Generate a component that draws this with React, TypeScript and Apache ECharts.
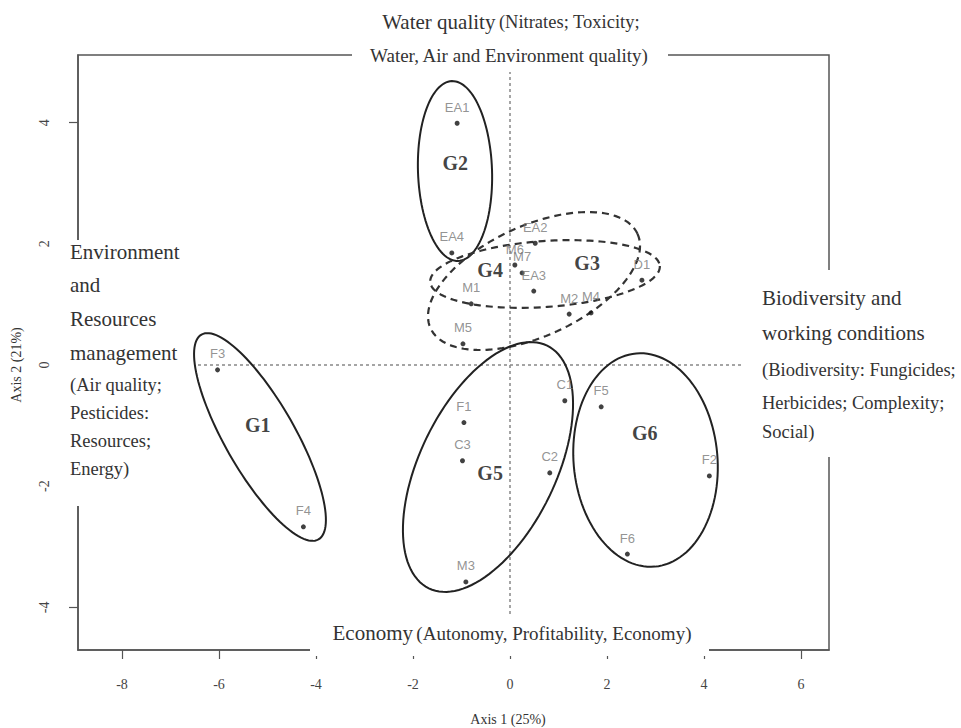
import React, { useEffect, useRef } from "react";
import * as echarts from "echarts";

// ---- data -------------------------------------------------------------
const pointNames = ["EA1", "EA2", "EA3", "EA4", "M1", "M2", "M3", "M4", "M5", "M6", "M7", "D1", "F1", "F2", "F3", "F4", "F5", "F6", "C1", "C2", "C3"];
const pointX = [-1.09, 0.52, 0.49, -1.2, -0.8, 1.22, -0.91, 1.67, -0.97, 0.1, 0.25, 2.72, -0.95, 4.11, -6.03, -4.26, 1.88, 2.42, 1.13, 0.82, -0.98];
const pointY = [3.99, 2.01, 1.22, 1.85, 1.01, 0.84, -3.58, 0.86, 0.35, 1.65, 1.52, 1.4, -0.95, -1.83, -0.08, -2.67, -0.69, -3.12, -0.59, -1.78, -1.58];

const groupNames = ["G1", "G2", "G3", "G4", "G5", "G6"];
const groupLabelX = [-5.2, -1.13, 1.59, -0.41, -0.41, 2.78];
const groupLabelY = [-0.99, 3.33, 1.68, 1.57, -1.78, -1.12];

// ellipses: centre and two semi-axis vectors, in axis units
const ellipseCX = [-5.155, -1.134, 0.722, 0.495, -0.454, 2.794];
const ellipseCY = [-1.188, 3.201, 1.502, 1.386, -1.683, -1.568];
const ellipseUX = [1.206, 0.064, 2.367, 2.134, 1.22, 0.192];
const ellipseUY = [-1.69, -1.484, 0.132, 0.779, 2.002, -1.759];
const ellipseVX = [-0.627, -0.763, 0.047, 0.473, 1.26, -1.478];
const ellipseVY = [-0.287, -0.021, -0.543, -0.83, -0.492, -0.104];
const ellipseDashed = [0, 0, 1, 1, 0, 0];

const xTicks = [-8, -6, -4, -2, 0, 2, 4, 6];
const yTicks = [-4, -2, 0, 2, 4];
const xRange = [-8.907, 6.577];
const yRange = [-4.703, 5.116];

const xTitle = "Axis 1 (25%)";
const yTitle = "Axis 2 (21%)";

const SERIF = "Liberation Serif, Times New Roman, serif";
const SANS = "Liberation Sans, Arial, sans-serif";
const TXT = "#333";

export default function App() {
  const ref = useRef<HTMLDivElement>(null);

  useEffect(() => {
    document.body.style.margin = "0";
    if (!ref.current) return;
    const chart = echarts.init(ref.current, null, { renderer: "svg" });

    const lineText = (text: string, x: number, y: number, size: number, align = "left") => ({
      type: "text",
      z: 20,
      style: {
        text,
        x,
        y,
        fill: TXT,
        font: `${size}px ${SERIF}`,
        textAlign: align,
        textVerticalAlign: "middle",
      },
    });

    const richText = (main: string, rest: string, x: number, y: number, restSize: number) => ({
      type: "text",
      z: 20,
      style: {
        text: `{a|${main}} {b|${rest}}`,
        x,
        y,
        textAlign: "center",
        textVerticalAlign: "middle",
        rich: {
          a: { fontSize: 21, fontFamily: SERIF, fill: TXT, color: TXT },
          b: { fontSize: restSize, fontFamily: SERIF, fill: TXT, color: TXT },
        },
      },
    });

    const whiteRect = (x: number, y: number, w: number, h: number) => ({
      type: "rect",
      z: 3,
      shape: { x, y, width: w, height: h },
      style: { fill: "#ffffff" },
      silent: true,
    });

    const axisLineStyle = { color: "#555", width: 1.5 };

    const option: any = {
      animation: false,
      backgroundColor: "#ffffff",
      grid: {
        left: 78,
        right: 132,
        top: 55,
        bottom: 78,
        show: true,
        borderColor: "#555",
        borderWidth: 1.5,
        backgroundColor: "transparent",
      },
      xAxis: {
        type: "value",
        min: xRange[0],
        max: xRange[1],
        splitLine: { show: false },
        axisLine: { show: true, onZero: false, lineStyle: axisLineStyle },
        axisTick: {
          show: true,
          inside: false,
          length: 9,
          customValues: xTicks,
          lineStyle: { color: "#555", width: 1.2 },
        },
        axisLabel: {
          customValues: xTicks,
          margin: 27,
          fontFamily: SERIF,
          fontSize: 14,
          color: "#444",
        },
      },
      yAxis: {
        type: "value",
        min: yRange[0],
        max: yRange[1],
        splitLine: { show: false },
        axisLine: { show: true, onZero: false, lineStyle: axisLineStyle },
        axisTick: {
          show: true,
          inside: false,
          length: 9,
          customValues: yTicks,
          lineStyle: { color: "#555", width: 1.2 },
        },
        axisLabel: {
          customValues: yTicks,
          rotate: 90,
          margin: 27,
          fontFamily: SERIF,
          fontSize: 14,
          color: "#444",
        },
      },
      graphic: [
        // gaps in the frame / reference lines behind the side texts
        whiteRect(352, 38, 316, 34),
        whiteRect(310, 616, 399, 40),
        whiteRect(64, 240, 134, 266),
        whiteRect(742, 270, 219, 187),
        // top
        richText("Water quality", "(Nitrates; Toxicity;", 511, 22, 18.5),
        lineText("Water, Air and Environment quality)", 509, 55, 19, "center"),
        // bottom
        richText("Economy", "(Autonomy, Profitability, Economy)", 512, 633, 19),
        // left
        lineText("Environment", 70, 252, 21),
        lineText("and", 70, 285, 21),
        lineText("Resources", 70, 319, 21),
        lineText("management", 70, 353, 21),
        lineText("(Air quality;", 70, 385, 18.5),
        lineText("Pesticides:", 70, 413, 18.5),
        lineText("Resources;", 70, 441, 18.5),
        lineText("Energy)", 70, 469, 18.5),
        // right
        lineText("Biodiversity and", 762, 298, 21),
        lineText("working conditions", 762, 333, 21),
        lineText("(Biodiversity: Fungicides;", 762, 370, 18.5),
        lineText("Herbicides; Complexity;", 762, 403, 18.5),
        lineText("Social)", 762, 432, 18.5),
        // axis titles
        {
          type: "text",
          z: 20,
          style: {
            text: xTitle,
            x: 508,
            y: 719,
            fill: TXT,
            font: `14px ${SERIF}`,
            textAlign: "center",
            textVerticalAlign: "middle",
          },
        },
        {
          type: "text",
          z: 20,
          x: 16,
          y: 365,
          rotation: Math.PI / 2,
          style: {
            text: yTitle,
            x: 0,
            y: 0,
            fill: TXT,
            font: `14px ${SERIF}`,
            textAlign: "center",
            textVerticalAlign: "middle",
          },
        },
      ],
      series: [
        {
          type: "custom",
          coordinateSystem: "cartesian2d",
          z: 5,
          silent: true,
          clip: false,
          encode: { x: 0, y: 1 },
          data: ellipseCX.map((cx, i) => [cx, ellipseCY[i], ellipseUX[i], ellipseUY[i], ellipseVX[i], ellipseVY[i], ellipseDashed[i]]),
          renderItem: (_params: any, api: any) => {
            const cx = api.value(0);
            const cy = api.value(1);
            const ux = api.value(2);
            const uy = api.value(3);
            const vx = api.value(4);
            const vy = api.value(5);
            const dashed = api.value(6) === 1;
            const pts: number[][] = [];
            const n = 120;
            for (let k = 0; k < n; k++) {
              const t = (2 * Math.PI * k) / n;
              const c = Math.cos(t);
              const s = Math.sin(t);
              pts.push(api.coord([cx + c * ux + s * vx, cy + c * uy + s * vy]));
            }
            return {
              type: "polygon",
              shape: { points: pts },
              style: {
                fill: "none",
                stroke: dashed ? "#333" : "#222",
                lineWidth: dashed ? 2.2 : 2,
                lineDash: dashed ? [7, 5] : null,
              },
            };
          },
        },
        {
          type: "scatter",
          z: 6,
          symbolSize: 5,
          itemStyle: { color: "#111" },
          data: pointNames.map((n, i) => ({ name: n, value: [pointX[i], pointY[i]] })),
          label: {
            show: true,
            position: "top",
            distance: 7,
            formatter: (p: any) => p.name,
            fontFamily: SANS,
            fontSize: 13,
            color: "#777",
          },
          markLine: {
            z: 1,
            silent: true,
            symbol: ["none", "none"],
            label: { show: false },
            lineStyle: { type: [3, 3], color: "#888", width: 1.5 },
            data: [{ xAxis: 0 }, { yAxis: 0 }],
          },
        },
        {
          type: "scatter",
          z: 7,
          symbolSize: 0,
          silent: true,
          data: groupNames.map((n, i) => ({ name: n, value: [groupLabelX[i], groupLabelY[i]] })),
          label: {
            show: true,
            position: "inside",
            formatter: (p: any) => p.name,
            fontFamily: SERIF,
            fontWeight: "bold",
            fontSize: 20,
            color: "#111",
          },
        },
      ],
    };

    chart.setOption(option);
    return () => chart.dispose();
  }, []);

  return <div ref={ref} style={{ width: 961, height: 728 }} />;
}
